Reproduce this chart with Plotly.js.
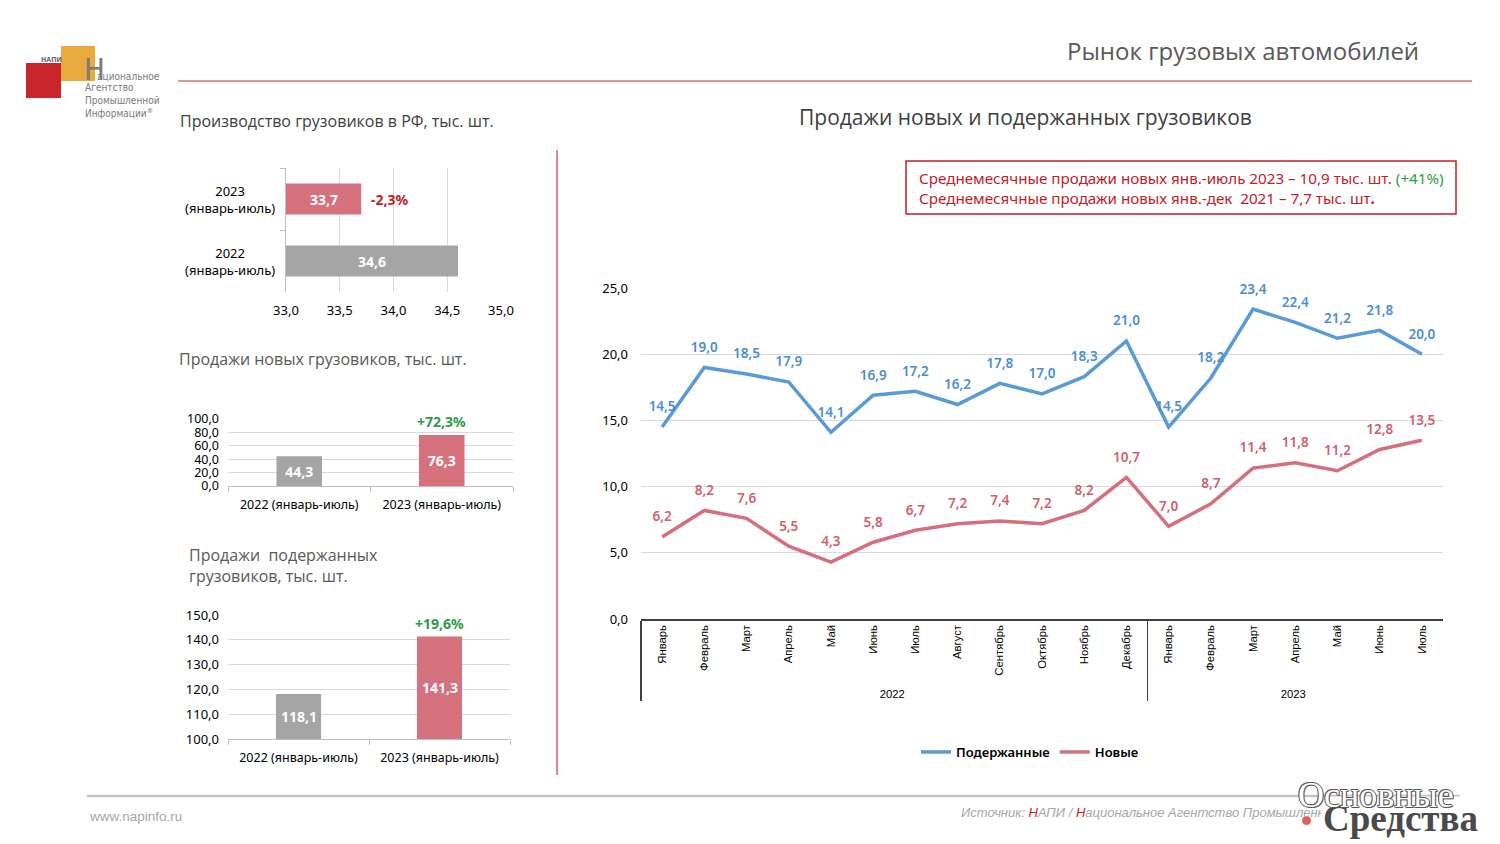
<!DOCTYPE html>
<html><head><meta charset="utf-8">
<script src="https://cdn.plot.ly/plotly-3.0.1.min.js"></script>
<style>html,body{margin:0;padding:0;background:#fff}#chart{width:1500px;height:844px}</style>
</head><body><div id="chart"></div>
<script>
// ---------- data ----------
const prodCategories = ['2022<br>(январь-июль)', '2023<br>(январь-июль)'];
const prodValues = [34.6, 33.7];
const prodChange = '-2,3%';

const periodCategories = ['2022 (январь-июль)', '2023 (январь-июль)'];
const newSalesValues = [44.3, 76.3];
const newSalesChange = '+72,3%';
const usedSalesValues = [118.1, 141.3];
const usedSalesChange = '+19,6%';

const monthYears = ['2022','2022','2022','2022','2022','2022','2022','2022','2022','2022','2022','2022',
                    '2023','2023','2023','2023','2023','2023','2023'];
const monthNames = ['Январь','Февраль','Март','Апрель','Май','Июнь','Июль','Август','Сентябрь','Октябрь','Ноябрь','Декабрь',
                    'Январь','Февраль','Март','Апрель','Май','Июнь','Июль'];
const usedMonthly = [14.5,19.0,18.5,17.9,14.1,16.9,17.2,16.2,17.8,17.0,18.3,21.0,14.5,18.2,23.4,22.4,21.2,21.8,20.0];
const newMonthly  = [6.2,8.2,7.6,5.5,4.3,5.8,6.7,7.2,7.4,7.2,8.2,10.7,7.0,8.7,11.4,11.8,11.2,12.8,13.5];
const seriesNames = ['Подержанные', 'Новые'];

// axis ranges
const prodRange = [33, 35];
const usedRange = [100, 150];

// ---------- helpers (pixel -> paper) ----------
const W = 1500, H = 844;
const px = x => x / W;
const py = y => 1 - y / H;
const fmt = v => v.toFixed(1).replace('.', ',');

const F = 'Noto Sans, Open Sans, sans-serif';
const FT = 'Open Sans, Noto Sans, sans-serif';
const FA = 'Liberation Sans, Arial, sans-serif';
const FN = 'Liberation Sans Narrow, DejaVu Sans Condensed, DejaVu Sans, sans-serif';
const GRAY = '#a5a5a5', PINK = '#d6717e', BLUE = '#5b9bd5', RED_LINE = '#d4707d';
const barText = {color: '#ffffff', size: 14, family: F, weight: 'bold'};

const traces = [
  {type: 'bar', orientation: 'h', x: prodValues, y: prodCategories, xaxis: 'x', yaxis: 'y',
   marker: {color: [GRAY, PINK]}, width: 0.5, textposition: 'none', showlegend: false, hoverinfo: 'skip'},
  {type: 'bar', x: periodCategories, y: newSalesValues, xaxis: 'x2', yaxis: 'y2',
   marker: {color: [GRAY, PINK]}, width: 0.32, texttemplate: '%{y:.1f}', textposition: 'inside',
   insidetextanchor: 'middle', textfont: barText, showlegend: false, hoverinfo: 'skip'},
  {type: 'bar', x: periodCategories, y: usedSalesValues, xaxis: 'x3', yaxis: 'y3',
   marker: {color: [GRAY, PINK]}, width: 0.32, textposition: 'none', showlegend: false, hoverinfo: 'skip'},
  {type: 'scatter', mode: 'lines+markers+text', name: seriesNames[0], x: [monthYears, monthNames], y: usedMonthly,
   xaxis: 'x4', yaxis: 'y4', line: {color: BLUE, width: 3.5}, marker: {size: 18, color: 'rgba(0,0,0,0)'},
   texttemplate: '%{y:.1f}', textposition: 'top center', cliponaxis: false,
   textfont: {color: '#4a8ed0', size: 13.5, family: F, weight: 600}},
  {type: 'scatter', mode: 'lines+markers+text', name: seriesNames[1], x: [monthYears, monthNames], y: newMonthly,
   xaxis: 'x4', yaxis: 'y4', line: {color: RED_LINE, width: 3.5}, marker: {size: 18, color: 'rgba(0,0,0,0)'},
   texttemplate: '%{y:.1f}', textposition: 'top center', cliponaxis: false,
   textfont: {color: '#d0606e', size: 13.5, family: F, weight: 600}}
];

const tickF = {family: F, size: 13, color: '#000000'};
const catF = {family: F, size: 12.5, color: '#000000'};

const annotations = [
  // header & titles
  {text: 'Рынок грузовых автомобилей', x: px(1421), y: py(50), xanchor: 'right', yanchor: 'middle',
   font: {family: FT, size: 24, color: '#595959'}},
  {text: 'Производство грузовиков в РФ, тыс. шт.', x: px(178), y: py(121), xanchor: 'left', yanchor: 'middle',
   font: {family: FT, size: 16, color: '#404040'}},
  {text: 'Продажи новых грузовиков, тыс. шт.', x: px(177), y: py(359), xanchor: 'left', yanchor: 'middle',
   font: {family: FT, size: 16, color: '#595959'}},
  {text: 'Продажи  подержанных<br>грузовиков, тыс. шт.', x: px(187), y: py(565), xanchor: 'left', yanchor: 'middle',
   align: 'left', font: {family: FT, size: 16, color: '#595959'}},
  {text: 'Продажи новых и подержанных грузовиков', x: px(1025), y: py(117), xanchor: 'center', yanchor: 'middle',
   font: {family: FT, size: 21, color: '#404040'}},
  {text: 'Среднемесячные продажи новых янв.-июль 2023 – 10,9 тыс. шт. <span style="color:#2e9b47">(+41%)</span><br>' +
         'Среднемесячные продажи новых янв.-дек  2021 – 7,7 тыс. шт<b>.</b>',
   x: px(917), y: py(188), xanchor: 'left', yanchor: 'middle', align: 'left',
   font: {family: F, size: 15.2, color: '#c0202a'}},
  // change labels
  {text: prodChange, xref: 'x', yref: 'y', x: prodValues[1], y: prodCategories[1], xanchor: 'left', xshift: 8,
   yanchor: 'middle', font: {family: F, size: 14, color: '#c0202a', weight: 'bold'}},
  {text: newSalesChange, xref: 'x2', yref: 'y2', x: periodCategories[1], y: newSalesValues[1], yanchor: 'bottom',
   yshift: 2, font: {family: F, size: 14, color: '#2e9b47', weight: 'bold'}},
  {text: usedSalesChange, xref: 'x3', yref: 'y3', x: periodCategories[1], y: usedSalesValues[1], yanchor: 'bottom',
   yshift: 2, font: {family: F, size: 14, color: '#2e9b47', weight: 'bold'}},
  // logo texts
  {text: '<b>НАПИ</b>', x: px(51), y: py(60), xanchor: 'center', yanchor: 'middle',
   font: {family: FN, size: 7, color: '#6d6d6d'}},
  {text: 'Н', x: px(82), y: py(69), xanchor: 'left', yanchor: 'middle',
   font: {family: FN, size: 31, color: '#7a7a7a'}},
  {text: 'ациональное', x: px(95), y: py(77), xanchor: 'left', yanchor: 'middle',
   font: {family: FN, size: 10, color: '#7a7a7a'}},
  {text: 'Агентство<br>Промышленной<br>Информации<sup>®</sup>', x: px(83), y: py(100), xanchor: 'left', yanchor: 'middle',
   align: 'left', font: {family: FN, size: 10, color: '#7a7a7a'}},
  // footer
  {text: 'www.napinfo.ru', x: px(87), y: py(816), xanchor: 'left', yanchor: 'middle',
   font: {family: FA, size: 13.5, color: '#a6a6a6'}},
  {text: '<i>Источник: <span style="color:#c0202a">Н</span>АПИ / <span style="color:#c0202a">Н</span>ациональное Агентство Промышленной Информации</i>',
   x: px(959), y: py(812), xanchor: 'left', yanchor: 'middle',
   font: {family: FA, size: 13, color: '#a6a6a6'}},
  // watermark
  {text: '<b>Средства</b>', x: px(1400), y: py(818), xanchor: 'center', yanchor: 'middle', bgcolor: '#ffffff',
   font: {family: 'Liberation Serif, DejaVu Serif, serif', size: 37, color: '#4a4a4a'}},
  {text: 'Основные', x: px(1376), y: py(795), xanchor: 'center', yanchor: 'middle',
   font: {family: 'Liberation Serif, DejaVu Serif, serif', size: 36, color: '#ffffff',
          shadow: '1px 0 0 #5a5a5a, -1px 0 0 #5a5a5a, 0 1px 0 #5a5a5a, 0 -1px 0 #5a5a5a, 1px 1px 0 #5a5a5a, -1px -1px 0 #5a5a5a'}}
];
// category labels of the production chart (centered two-line labels)
prodCategories.forEach(c => annotations.push({text: c, xref: 'paper', yref: 'y', x: px(230), y: c,
  xanchor: 'center', yanchor: 'middle', align: 'center', font: {family: F, size: 13, color: '#000'}}));
// value labels centred in the visible part of the clipped bars
prodCategories.forEach((c, i) => annotations.push({text: fmt(prodValues[i]), xref: 'x', yref: 'y',
  x: (prodRange[0] + prodValues[i]) / 2, y: c, xanchor: 'center', yanchor: 'middle', font: barText}));
periodCategories.forEach((c, i) => annotations.push({text: fmt(usedSalesValues[i]), xref: 'x3', yref: 'y3',
  x: c, y: (usedRange[0] + usedSalesValues[i]) / 2, xanchor: 'center', yanchor: 'middle', font: barText}));
annotations.forEach(a => { if (a.showarrow === undefined) a.showarrow = false; if (!a.xref) a.xref = 'paper'; if (!a.yref) a.yref = 'paper'; });

const shapes = [
  {type: 'line', xref: 'paper', yref: 'paper', x0: px(178), x1: px(1472), y0: py(81), y1: py(81), line: {color: '#e3949a', width: 2}},
  {type: 'rect', xref: 'paper', yref: 'paper', x0: px(61), x1: px(95), y0: py(81), y1: py(46), fillcolor: '#e8a93f', line: {width: 0}, layer: 'below'},
  {type: 'rect', xref: 'paper', yref: 'paper', x0: px(26), x1: px(61), y0: py(98), y1: py(63), fillcolor: '#c9252c', line: {width: 0}, layer: 'below'},
  {type: 'line', xref: 'paper', yref: 'paper', x0: px(557), x1: px(557), y0: py(150), y1: py(775), line: {color: '#e05a5f', width: 1.5}},
  {type: 'rect', xref: 'paper', yref: 'paper', x0: px(906), x1: px(1456), y0: py(214), y1: py(161), line: {color: '#c0202a', width: 1.5}},
  {type: 'line', xref: 'paper', yref: 'paper', x0: px(87), x1: px(1460), y0: py(796), y1: py(796), line: {color: '#c3c3c3', width: 2.5}},
  {type: 'circle', xref: 'paper', yref: 'paper', x0: px(1302), x1: px(1311), y0: py(825), y1: py(816), fillcolor: '#e06060', line: {width: 0}}
];

const layout = {
  width: W, height: H, margin: {l: 0, r: 0, t: 0, b: 0},
  paper_bgcolor: '#ffffff', plot_bgcolor: 'rgba(0,0,0,0)',
  separators: ', ', font: {family: F, size: 13, color: '#000'},
  showlegend: true,
  legend: {orientation: 'h', x: px(1030), xanchor: 'center', y: py(752), yanchor: 'middle',
           font: {family: F, size: 13, color: '#000', weight: 600}, itemwidth: 30, traceorder: 'normal'},
  xaxis: {domain: [px(286), px(501)], anchor: 'y', range: prodRange, dtick: 0.5, tickformat: '.1f',
          showgrid: true, gridcolor: '#d9d9d9', zeroline: false, showline: false, ticks: '',
          tickfont: tickF, ticklabelstandoff: 9, fixedrange: true},
  yaxis: {domain: [py(292), py(168)], anchor: 'x', type: 'category', range: [-0.5, 1.5],
          showticklabels: false, showgrid: false, showline: true, linecolor: '#bfbfbf',
          ticks: 'outside', tickson: 'boundaries', ticklen: 5, tickcolor: '#bfbfbf', fixedrange: true},
  xaxis2: {domain: [px(228), px(513)], anchor: 'y2', type: 'category', range: [-0.5, 1.5],
           showline: true, linecolor: '#bfbfbf', ticks: 'outside', tickson: 'boundaries', ticklen: 5,
           tickcolor: '#bfbfbf', tickfont: catF, ticklabelstandoff: 7, showgrid: false, fixedrange: true},
  yaxis2: {domain: [py(486), py(419)], anchor: 'x2', range: [0, 100], dtick: 20, tickformat: '.1f',
           showgrid: true, gridcolor: '#d9d9d9', zeroline: false, showline: false, ticks: '',
           tickfont: {family: F, size: 12.5, color: '#000'}, ticklabelstandoff: 8, fixedrange: true},
  xaxis3: {domain: [px(228), px(510)], anchor: 'y3', type: 'category', range: [-0.5, 1.5],
           showline: true, linecolor: '#bfbfbf', ticks: 'outside', tickson: 'boundaries', ticklen: 5,
           tickcolor: '#bfbfbf', tickfont: catF, ticklabelstandoff: 7, showgrid: false, fixedrange: true},
  yaxis3: {domain: [py(739), py(615)], anchor: 'x3', range: usedRange, dtick: 10, tickformat: '.1f',
           showgrid: true, gridcolor: '#d9d9d9', zeroline: false, showline: false, ticks: '',
           tickfont: tickF, ticklabelstandoff: 8, fixedrange: true},
  xaxis4: {domain: [px(641), px(1443)], anchor: 'y4', type: 'multicategory', tickangle: -90,
           range: [-0.5, monthNames.length - 0.5],
           showline: true, linecolor: '#404040', linewidth: 1.5, showdividers: true, dividercolor: '#404040',
           dividerwidth: 1.5, ticks: '', tickfont: {family: FA, size: 11.3, color: '#000'}, showgrid: false,
           fixedrange: true},
  yaxis4: {domain: [py(619), py(288)], anchor: 'x4', range: [0, 25], dtick: 5, tickformat: '.1f',
           showgrid: true, gridcolor: '#d9d9d9', zeroline: false, showline: false, ticks: '',
           tickfont: tickF, ticklabelstandoff: 12, fixedrange: true},
  annotations: annotations,
  shapes: shapes
};

Plotly.newPlot('chart', traces, layout, {staticPlot: true, displayModeBar: false});
</script></body></html>
